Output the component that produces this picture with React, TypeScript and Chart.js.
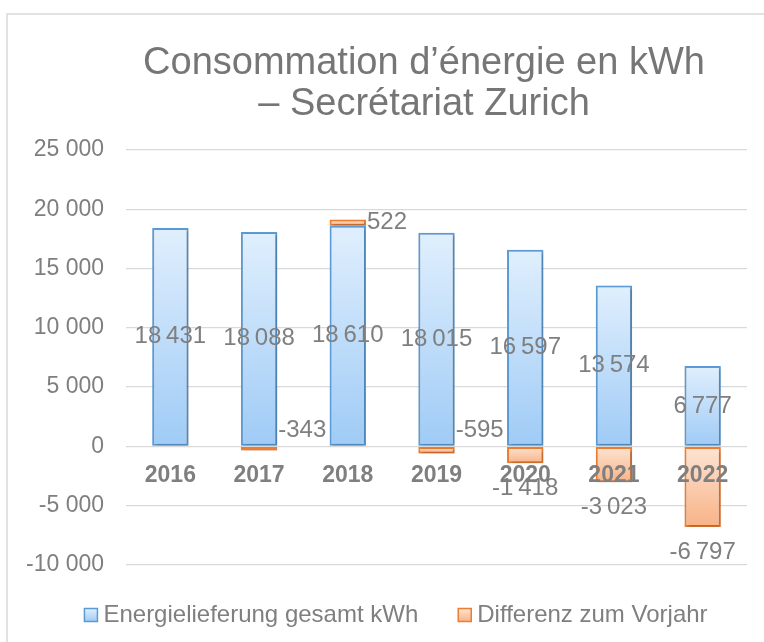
import { useEffect, useRef } from 'react';
import { Chart, registerables } from 'chart.js';

Chart.register(...registerables);

const TITLE_LINES = ['Consommation d’énergie en kWh', '– Secrétariat Zurich'];
const YEARS = ['2016', '2017', '2018', '2019', '2020', '2021', '2022'];
const TOTAL_KWH = [18431, 18088, 18610, 18015, 16597, 13574, 6777];
const DIFF_KWH: (number | null)[] = [null, -343, 522, -595, -1418, -3023, -6797];
const SERIES_NAMES = ['Energielieferung gesamt kWh', 'Differenz zum Vorjahr'];
const Y_MIN = -10000;
const Y_MAX = 25000;
const Y_STEP = 5000;

const FONT = '"Liberation Sans", Arial, sans-serif';
const TEXT = '#7f7f7f';
const BLUE = { top: '#e0effd', bottom: '#9fcbf6', border: '#5b9bd5' };
const ORANGE = { top: '#fde4d4', bottom: '#f8b387', border: '#ed7d31' };

function fmt(v: number, sep: string) {
  const s = Math.abs(Math.round(v)).toString().replace(/\B(?=(\d{3})+(?!\d))/g, sep);
  return (v < 0 ? '-' : '') + s;
}

function barGradient(chart: any, startVal: number, endVal: number, pal: any) {
  const y = chart.scales?.y;
  if (!y) return pal.bottom;
  const a = y.getPixelForValue(startVal);
  const b = y.getPixelForValue(endVal);
  if (!isFinite(a) || !isFinite(b) || a === b) return pal.bottom;
  const top = Math.min(a, b);
  const bot = Math.max(a, b);
  const g = chart.ctx.createLinearGradient(0, top, 0, bot);
  g.addColorStop(0, pal.top);
  g.addColorStop(1, pal.bottom);
  return g;
}

const decoPlugin = {
  id: 'deco',
  beforeDraw(chart: any) {
    const ctx = chart.ctx;
    ctx.save();
    ctx.strokeStyle = '#d9d9d9';
    ctx.lineWidth = 1.5;
    ctx.beginPath();
    ctx.moveTo(7, 700);
    ctx.lineTo(7, 14);
    ctx.lineTo(900, 14);
    ctx.stroke();
    ctx.fillStyle = '#767676';
    ctx.font = `38px ${FONT}`;
    ctx.textAlign = 'center';
    ctx.textBaseline = 'alphabetic';
    ctx.fillText(TITLE_LINES[0], 424, 74);
    ctx.fillText(TITLE_LINES[1], 424, 115);
    ctx.restore();
  },
  beforeDatasetsDraw(chart: any) {
    const ctx = chart.ctx;
    ctx.save();
    ctx.shadowColor = 'rgba(0,0,0,0.28)';
    ctx.shadowBlur = 3;
    ctx.shadowOffsetX = 1.5;
    ctx.shadowOffsetY = 1.5;
  },
  afterDatasetsDraw(chart: any) {
    const ctx = chart.ctx;
    ctx.restore();
    const yScale = chart.scales.y;
    const xScale = chart.scales.x;
    const zeroY = yScale.getPixelForValue(0);
    ctx.save();
    // category labels near the zero line
    ctx.fillStyle = TEXT;
    ctx.font = `bold 23px ${FONT}`;
    ctx.textAlign = 'center';
    ctx.textBaseline = 'middle';
    YEARS.forEach((lab, i) => {
      ctx.fillText(lab, xScale.getPixelForValue(i), zeroY + 29);
    });
    // data labels
    ctx.font = `24px ${FONT}`;
    const m0 = chart.getDatasetMeta(0);
    m0.data.forEach((bar: any, i: number) => {
      const v = TOTAL_KWH[i];
      ctx.textAlign = 'center';
      ctx.textBaseline = 'middle';
      ctx.fillText(fmt(v, '\u2009'), bar.x, (bar.y + bar.base) / 2);
    });
    const m1 = chart.getDatasetMeta(1);
    m1.data.forEach((bar: any, i: number) => {
      const v = DIFF_KWH[i];
      if (v === null || v === undefined) return;
      const txt = fmt(v, '\u2009');
      if (Math.abs(v) < 1000) {
        ctx.textAlign = 'left';
        ctx.textBaseline = 'middle';
        const yy = v > 0 ? (bar.y + bar.base) / 2 : zeroY - 16;
        ctx.fillText(txt, bar.x + bar.width / 2 + 1, yy);
      } else {
        ctx.textAlign = 'center';
        ctx.textBaseline = 'middle';
        ctx.fillText(txt, bar.x, Math.max(bar.y, bar.base) + 25);
      }
    });
    // legend
    ctx.font = `24px ${FONT}`;
    const w1 = ctx.measureText(SERIES_NAMES[0]).width;
    const w2 = ctx.measureText(SERIES_NAMES[1]).width;
    const box = 13;
    const gap = 6;
    const spacing = 40;
    const total = box + gap + w1 + spacing + box + gap + w2;
    let x = 396 - total / 2;
    const ly = 615;
    const drawBox = (bx: number, pal: any) => {
      const g = ctx.createLinearGradient(0, ly - box / 2, 0, ly + box / 2);
      g.addColorStop(0, pal.top);
      g.addColorStop(1, pal.bottom);
      ctx.fillStyle = g;
      ctx.fillRect(bx, ly - box / 2, box, box);
      ctx.strokeStyle = pal.border;
      ctx.lineWidth = 1.5;
      ctx.strokeRect(bx, ly - box / 2, box, box);
    };
    ctx.textAlign = 'left';
    ctx.textBaseline = 'middle';
    drawBox(x, BLUE);
    ctx.fillStyle = TEXT;
    ctx.fillText(SERIES_NAMES[0], x + box + gap, ly);
    x += box + gap + w1 + spacing;
    drawBox(x, ORANGE);
    ctx.fillStyle = TEXT;
    ctx.fillText(SERIES_NAMES[1], x + box + gap, ly);
    ctx.restore();
  },
};

export default function App() {
  const ref = useRef<HTMLCanvasElement | null>(null);
  useEffect(() => {
    if (!ref.current) return;
    const chart = new Chart(ref.current, {
      type: 'bar',
      data: {
        labels: YEARS,
        datasets: [
          {
            label: SERIES_NAMES[0],
            data: TOTAL_KWH,
            backgroundColor: (c: any) => barGradient(c.chart, 0, TOTAL_KWH[c.dataIndex] ?? 0, BLUE),
            borderColor: BLUE.border,
            borderWidth: 2,
            borderSkipped: false,
            barPercentage: 0.41,
            categoryPercentage: 1,
          },
          {
            label: SERIES_NAMES[1],
            data: DIFF_KWH,
            backgroundColor: (c: any) => {
              const v = DIFF_KWH[c.dataIndex] ?? 0;
              const start = v > 0 ? TOTAL_KWH[c.dataIndex] : 0;
              return barGradient(c.chart, start, start + v, ORANGE);
            },
            borderColor: ORANGE.border,
            borderWidth: 2,
            borderSkipped: false,
            barPercentage: 0.41,
            categoryPercentage: 1,
          },
        ],
      },
      options: {
        responsive: false,
        animation: false,
        layout: { padding: { top: 150, bottom: 77, left: 0, right: 17 } },
        plugins: {
          legend: { display: false },
          title: { display: false },
          tooltip: { enabled: false },
        },
        scales: {
          x: {
            stacked: true,
            display: false,
          },
          y: {
            stacked: true,
            min: Y_MIN,
            max: Y_MAX,
            afterFit: (s: any) => {
              s.width = 126;
            },
            border: { display: false },
            grid: { color: '#d9d9d9', lineWidth: 1.3, drawTicks: false },
            ticks: {
              stepSize: Y_STEP,
              padding: 22,
              color: TEXT,
              font: { family: FONT, size: 23 },
              callback: (v: any) => fmt(Number(v), ' '),
            },
          },
        },
      },
      plugins: [decoPlugin],
    });
    return () => chart.destroy();
  }, []);
  return (
    <div style={{ position: 'fixed', left: 0, top: 0, width: 764, height: 642, background: '#fff' }}>
      <canvas ref={ref} width={764} height={642} style={{ width: 764, height: 642, display: 'block' }} />
    </div>
  );
}
